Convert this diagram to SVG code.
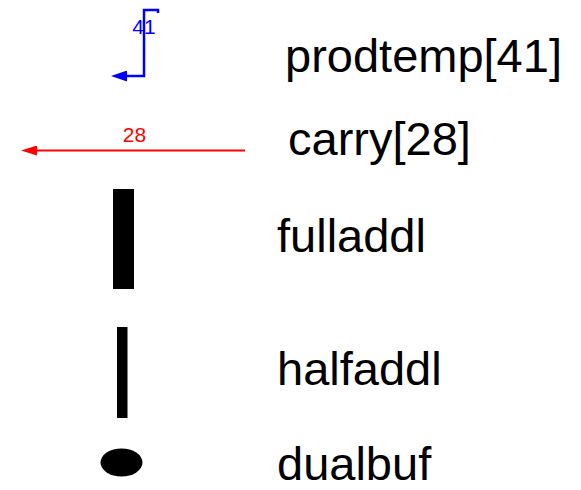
<svg xmlns="http://www.w3.org/2000/svg" width="581" height="490" viewBox="0 0 581 490">
<style>
.lbl{font-family:"Liberation Sans",Arial,sans-serif;font-size:47px;fill:#000}
.num{font-family:"Liberation Sans",Arial,sans-serif;font-size:21px;text-anchor:middle}
</style>
<defs>
<marker id="arrB" viewBox="0 0 16 11" refX="0" refY="5.5" markerWidth="16" markerHeight="11" markerUnits="userSpaceOnUse" orient="auto"><path d="M0,0 L16,5.5 L0,11 z" fill="#0000ff"/></marker>
<marker id="arrR" viewBox="0 0 16 10" refX="0" refY="5" markerWidth="16" markerHeight="10" markerUnits="userSpaceOnUse" orient="auto"><path d="M0,0 L16,5 L0,10 z" fill="#ff0000"/></marker>
</defs>
<rect width="581" height="490" fill="#fff"/>
<g id="connectors">
<g id="prodtemp41">
<path d="M158,13 V10 H144 V76 H127" fill="none" stroke="#0000ff" stroke-width="2.5" marker-end="url(#arrB)"/>
<text class="num" x="144" y="34" fill="#0000ff">41</text>
</g>
<g id="carry28">
<path d="M245,150.5 H37" fill="none" stroke="#ff0000" stroke-width="2" marker-end="url(#arrR)"/>
<text class="num" x="134.5" y="141.5" fill="#ff0000">28</text>
</g>
</g>
<g id="legend-prodtemp"><text class="lbl" x="285" y="72">prodtemp[41]</text></g>
<g id="legend-carry"><text class="lbl" x="288" y="155">carry[28]</text></g>
<g id="fulladdl"><rect x="113" y="189" width="21" height="100" fill="#000"/><text class="lbl" x="277" y="252">fulladdl</text></g>
<g id="halfaddl"><rect x="117" y="327" width="10.5" height="91" fill="#000"/><text class="lbl" x="277" y="385">halfaddl</text></g>
<g id="dualbuf"><ellipse cx="121.5" cy="462.5" rx="21" ry="14" fill="#000"/><text class="lbl" x="277" y="480">dualbuf</text></g>
</svg>
